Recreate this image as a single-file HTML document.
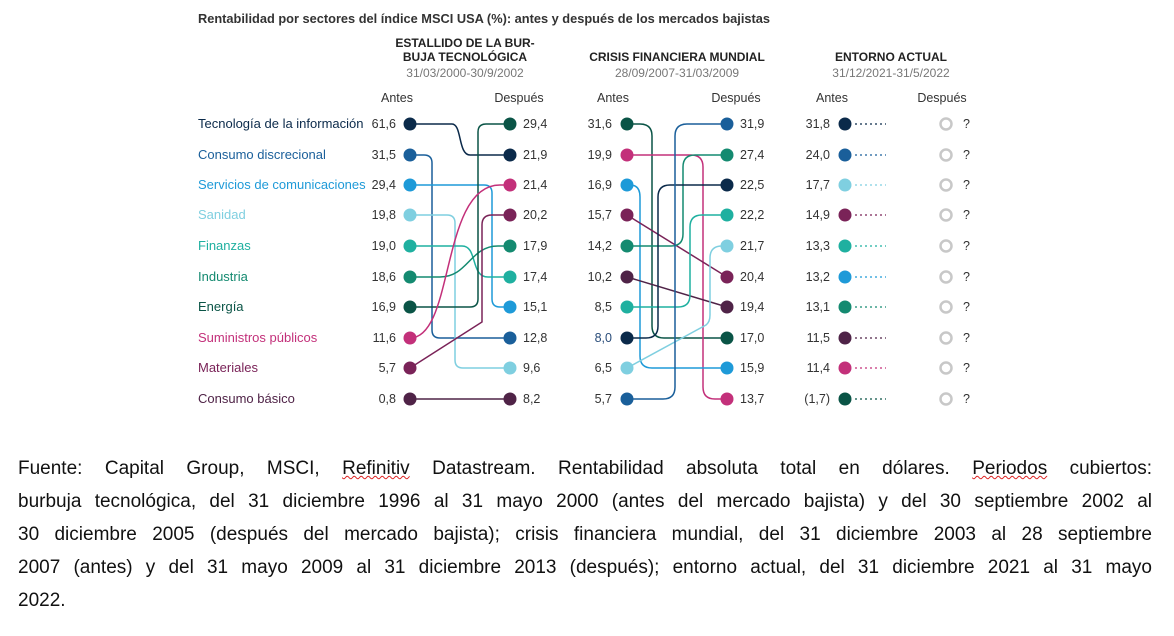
<!DOCTYPE html>
<html><head><meta charset="utf-8"><style>
body{margin:0;background:#fff;width:1174px;height:636px;overflow:hidden;font-family:"Liberation Sans",sans-serif}
svg{position:absolute;left:0;top:0}
.foot{position:absolute;left:18px;width:1134px;top:452px;font-size:19px;color:#111;line-height:33px}
.foot div{text-align:justify;text-align-last:justify;white-space:nowrap}
.foot div.l{text-align-last:left}
.u{text-decoration:underline wavy #d22;text-decoration-thickness:1px}
</style></head><body>
<svg width="1174" height="440" viewBox="0 0 1174 440" font-family="Liberation Sans, sans-serif">
<text x="198" y="23" font-size="12.8" font-weight="bold" fill="#333">Rentabilidad por sectores del índice MSCI USA (%): antes y después de los mercados bajistas</text>
<g font-size="12" font-weight="bold" fill="#222" text-anchor="middle">
<text x="465" y="47">ESTALLIDO DE LA BUR-</text>
<text x="465" y="61">BUJA TECNOLÓGICA</text>
<text x="677" y="61">CRISIS FINANCIERA MUNDIAL</text>
<text x="891" y="61">ENTORNO ACTUAL</text>
</g>
<g font-size="12" fill="#777" text-anchor="middle">
<text x="465" y="77">31/03/2000-30/9/2002</text>
<text x="677" y="77">28/09/2007-31/03/2009</text>
<text x="891" y="77">31/12/2021-31/5/2022</text>
</g>
<g font-size="12.5" fill="#333" text-anchor="middle">
<text x="397" y="102">Antes</text><text x="519" y="102">Después</text>
<text x="613" y="102">Antes</text><text x="736" y="102">Después</text>
<text x="832" y="102">Antes</text><text x="942" y="102">Después</text>
</g>
<g font-size="13">
<text x="198" y="128" fill="#0b2a4a">Tecnología de la información</text>
<text x="198" y="159" fill="#1a5f9a">Consumo discrecional</text>
<text x="198" y="189" fill="#1e9ad8">Servicios de comunicaciones</text>
<text x="198" y="219" fill="#7fcfe0">Sanidad</text>
<text x="198" y="250" fill="#1fb0a0">Finanzas</text>
<text x="198" y="281" fill="#148a70">Industria</text>
<text x="198" y="311" fill="#0a5446">Energía</text>
<text x="198" y="342" fill="#c3307a">Suministros públicos</text>
<text x="198" y="372" fill="#7a2358">Materiales</text>
<text x="198" y="403" fill="#4f2347">Consumo básico</text>
</g>
<g fill="none" stroke-width="1.5">
<path d="M410 124 H452 C462 124 458 155 470 155 H510" stroke="#0b2a4a"/>
<path d="M410 155 H424 Q432 155 432 163 V330 Q432 338 440 338 H510" stroke="#1a5f9a"/>
<path d="M410 185 H484 Q492 185 492 193 V299 Q492 307 500 307 H510" stroke="#1e9ad8"/>
<path d="M410 215 H447 Q455 215 455 223 V360 Q455 368 463 368 H510" stroke="#7fcfe0"/>
<path d="M410 246 H462 C478 246 470 277 488 277 H510" stroke="#1fb0a0"/>
<path d="M410 277 H440 C468 277 470 246 498 246 H510" stroke="#148a70"/>
<path d="M410 307 H470 Q478 307 478 299 V132 Q478 124 486 124 H510" stroke="#0a5446"/>
<path d="M410 338 C455 338 440 185 500 185 H510" stroke="#c3307a"/>
<path d="M410 368 L482 322 V225 Q482 215 492 215 H510" stroke="#7a2358"/>
<path d="M410 399 H510" stroke="#4f2347"/>
<path d="M627 124 H640 Q652 124 652 136 V326 Q652 338 664 338 H727" stroke="#0a5446"/>
<path d="M627 155 H691 Q703 155 703 167 V387 Q703 399 715 399 H727" stroke="#c3307a"/>
<path d="M627 185 H630 Q640 185 640 197 V356 Q640 368 652 368 H727" stroke="#1e9ad8"/>
<path d="M627 215 L727 277" stroke="#7a2358"/>
<path d="M627 246 H671 Q683 246 683 234 V167 Q683 155 695 155 H727" stroke="#148a70"/>
<path d="M627 277 L727 307" stroke="#4f2347"/>
<path d="M627 307 H678 Q690 307 690 295 V227 Q690 215 702 215 H727" stroke="#1fb0a0"/>
<path d="M627 338 H646 Q658 338 658 326 V197 Q658 185 670 185 H727" stroke="#0b2a4a"/>
<path d="M627 368 L706 325 Q710 322 710 315 V258 Q710 246 722 246 H727" stroke="#7fcfe0"/>
<path d="M627 399 H663 Q675 399 675 387 V136 Q675 124 687 124 H727" stroke="#1a5f9a"/>
</g>
<g stroke-width="1.3" stroke-dasharray="2 3">
<path d="M855 124 H886" stroke="#0b2a4a"/>
<path d="M855 155 H886" stroke="#1a5f9a"/>
<path d="M855 185 H886" stroke="#7fcfe0"/>
<path d="M855 215 H886" stroke="#7a2358"/>
<path d="M855 246 H886" stroke="#1fb0a0"/>
<path d="M855 277 H886" stroke="#1e9ad8"/>
<path d="M855 307 H886" stroke="#148a70"/>
<path d="M855 338 H886" stroke="#4f2347"/>
<path d="M855 368 H886" stroke="#c3307a"/>
<path d="M855 399 H886" stroke="#0a5446"/>
</g>
<g>
<circle cx="410" cy="124" r="6.5" fill="#0b2a4a"/><circle cx="410" cy="155" r="6.5" fill="#1a5f9a"/><circle cx="410" cy="185" r="6.5" fill="#1e9ad8"/><circle cx="410" cy="215" r="6.5" fill="#7fcfe0"/><circle cx="410" cy="246" r="6.5" fill="#1fb0a0"/><circle cx="410" cy="277" r="6.5" fill="#148a70"/><circle cx="410" cy="307" r="6.5" fill="#0a5446"/><circle cx="410" cy="338" r="6.5" fill="#c3307a"/><circle cx="410" cy="368" r="6.5" fill="#7a2358"/><circle cx="410" cy="399" r="6.5" fill="#4f2347"/>
<circle cx="510" cy="124" r="6.5" fill="#0a5446"/><circle cx="510" cy="155" r="6.5" fill="#0b2a4a"/><circle cx="510" cy="185" r="6.5" fill="#c3307a"/><circle cx="510" cy="215" r="6.5" fill="#7a2358"/><circle cx="510" cy="246" r="6.5" fill="#148a70"/><circle cx="510" cy="277" r="6.5" fill="#1fb0a0"/><circle cx="510" cy="307" r="6.5" fill="#1e9ad8"/><circle cx="510" cy="338" r="6.5" fill="#1a5f9a"/><circle cx="510" cy="368" r="6.5" fill="#7fcfe0"/><circle cx="510" cy="399" r="6.5" fill="#4f2347"/>
<circle cx="627" cy="124" r="6.5" fill="#0a5446"/><circle cx="627" cy="155" r="6.5" fill="#c3307a"/><circle cx="627" cy="185" r="6.5" fill="#1e9ad8"/><circle cx="627" cy="215" r="6.5" fill="#7a2358"/><circle cx="627" cy="246" r="6.5" fill="#148a70"/><circle cx="627" cy="277" r="6.5" fill="#4f2347"/><circle cx="627" cy="307" r="6.5" fill="#1fb0a0"/><circle cx="627" cy="338" r="6.5" fill="#0b2a4a"/><circle cx="627" cy="368" r="6.5" fill="#7fcfe0"/><circle cx="627" cy="399" r="6.5" fill="#1a5f9a"/>
<circle cx="727" cy="124" r="6.5" fill="#1a5f9a"/><circle cx="727" cy="155" r="6.5" fill="#148a70"/><circle cx="727" cy="185" r="6.5" fill="#0b2a4a"/><circle cx="727" cy="215" r="6.5" fill="#1fb0a0"/><circle cx="727" cy="246" r="6.5" fill="#7fcfe0"/><circle cx="727" cy="277" r="6.5" fill="#7a2358"/><circle cx="727" cy="307" r="6.5" fill="#4f2347"/><circle cx="727" cy="338" r="6.5" fill="#0a5446"/><circle cx="727" cy="368" r="6.5" fill="#1e9ad8"/><circle cx="727" cy="399" r="6.5" fill="#c3307a"/>
<circle cx="845" cy="124" r="6.5" fill="#0b2a4a"/><circle cx="845" cy="155" r="6.5" fill="#1a5f9a"/><circle cx="845" cy="185" r="6.5" fill="#7fcfe0"/><circle cx="845" cy="215" r="6.5" fill="#7a2358"/><circle cx="845" cy="246" r="6.5" fill="#1fb0a0"/><circle cx="845" cy="277" r="6.5" fill="#1e9ad8"/><circle cx="845" cy="307" r="6.5" fill="#148a70"/><circle cx="845" cy="338" r="6.5" fill="#4f2347"/><circle cx="845" cy="368" r="6.5" fill="#c3307a"/><circle cx="845" cy="399" r="6.5" fill="#0a5446"/>
</g>
<g fill="none" stroke="#c8c8c8" stroke-width="2.5">
<circle cx="946" cy="124" r="5.5"/><circle cx="946" cy="155" r="5.5"/><circle cx="946" cy="185" r="5.5"/><circle cx="946" cy="215" r="5.5"/><circle cx="946" cy="246" r="5.5"/><circle cx="946" cy="277" r="5.5"/><circle cx="946" cy="307" r="5.5"/><circle cx="946" cy="338" r="5.5"/><circle cx="946" cy="368" r="5.5"/><circle cx="946" cy="399" r="5.5"/>
</g>
<g font-size="12.5" fill="#333">
<g text-anchor="end">
<text x="396" y="128">61,6</text><text x="396" y="159">31,5</text><text x="396" y="189">29,4</text><text x="396" y="219">19,8</text><text x="396" y="250">19,0</text><text x="396" y="281">18,6</text><text x="396" y="311">16,9</text><text x="396" y="342">11,6</text><text x="396" y="372">5,7</text><text x="396" y="403">0,8</text>
<text x="612" y="128">31,6</text><text x="612" y="159">19,9</text><text x="612" y="189">16,9</text><text x="612" y="219">15,7</text><text x="612" y="250">14,2</text><text x="612" y="281">10,2</text><text x="612" y="311">8,5</text><text x="612" y="342" fill="#2a4d7a">8,0</text><text x="612" y="372">6,5</text><text x="612" y="403">5,7</text>
<text x="830" y="128">31,8</text><text x="830" y="159">24,0</text><text x="830" y="189">17,7</text><text x="830" y="219">14,9</text><text x="830" y="250">13,3</text><text x="830" y="281">13,2</text><text x="830" y="311">13,1</text><text x="830" y="342">11,5</text><text x="830" y="372">11,4</text><text x="830" y="403">(1,7)</text>
</g>
<text x="523" y="128">29,4</text><text x="523" y="159">21,9</text><text x="523" y="189">21,4</text><text x="523" y="219">20,2</text><text x="523" y="250">17,9</text><text x="523" y="281">17,4</text><text x="523" y="311">15,1</text><text x="523" y="342">12,8</text><text x="523" y="372">9,6</text><text x="523" y="403">8,2</text>
<text x="740" y="128">31,9</text><text x="740" y="159">27,4</text><text x="740" y="189">22,5</text><text x="740" y="219">22,2</text><text x="740" y="250">21,7</text><text x="740" y="281">20,4</text><text x="740" y="311">19,4</text><text x="740" y="342">17,0</text><text x="740" y="372">15,9</text><text x="740" y="403">13,7</text>
<text x="963" y="128">?</text><text x="963" y="159">?</text><text x="963" y="189">?</text><text x="963" y="219">?</text><text x="963" y="250">?</text><text x="963" y="281">?</text><text x="963" y="311">?</text><text x="963" y="342">?</text><text x="963" y="372">?</text><text x="963" y="403">?</text>
</g>
</svg>
<div class="foot">
<div>Fuente: Capital Group, MSCI, <span class="u">Refinitiv</span> Datastream. Rentabilidad absoluta total en dólares. <span class="u">Periodos</span> cubiertos:</div>
<div>burbuja tecnológica, del 31 diciembre 1996 al 31 mayo 2000 (antes del mercado bajista) y del 30 septiembre 2002 al</div>
<div>30 diciembre 2005 (después del mercado bajista); crisis financiera mundial, del 31 diciembre 2003 al 28 septiembre</div>
<div>2007 (antes) y del 31 mayo 2009 al 31 diciembre 2013 (después); entorno actual, del 31 diciembre 2021 al 31 mayo</div>
<div class="l">2022.</div>
</div>
</body></html>
